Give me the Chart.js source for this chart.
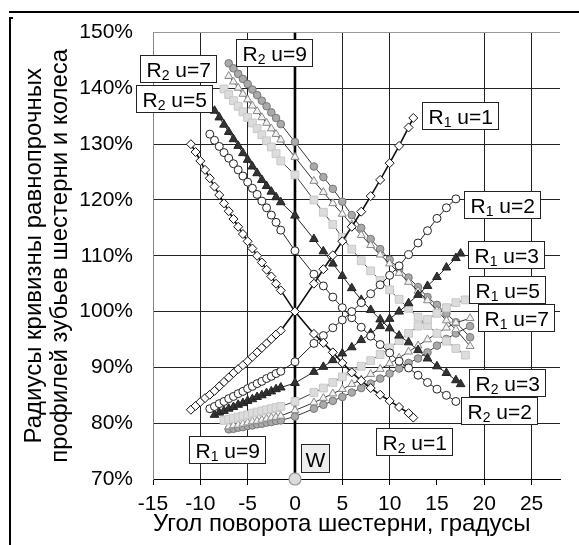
<!DOCTYPE html>
<html lang="ru">
<head>
    <meta charset="UTF-8">
    <title>Радиусы кривизны равнопрочных профилей</title>
    <style>
        body { margin: 0; background: #fff; font-family: "Liberation Sans", Arial, sans-serif; }
        #wrap { position: relative; width: 579px; height: 545px; overflow: hidden; }
        #chart { position: absolute; left: 0; top: 0; }
        .frame-top { position: absolute; left: 9px; top: 11px; width: 570px; border-top: 2px solid #000; }
        .frame-left { position: absolute; left: 9px; top: 17px; height: 528px; border-left: 2px solid #000; }
        .frame-stub { position: absolute; left: 9px; top: 17px; width: 4px; border-top: 2px solid #000; }
    </style>
</head>
<body>
<div id="wrap">
    <canvas id="chart" width="579" height="545"></canvas>
    <div class="frame-top"></div>
    <div class="frame-left"></div>
    <div class="frame-stub"></div>
</div>

<script src="https://cdn.jsdelivr.net/npm/chart.js@4/dist/chart.umd.min.js"></script>
<script>
  // pinion rotation angle, degrees (dense steps before 0, coarser after)
  const angles = [-11, -10.5, -10, -9.5, -9, -8.5, -8, -7.5, -7, -6.5, -6, -5.5, -5, -4.5, -4, -3.5, -3, -2.5, -2, -1.5,
                  0, 2, 3, 4, 5, 6, 7, 8, 9, 10, 11, 12, 12.5, 13, 14, 15, 16, 17, 17.5, 18, 18.5];

  // radii of curvature, % (null = no point at that angle)
  const r1u1 = [82.4, 83.1, 83.8, 84.5, 85.1, 85.8, 86.6, 87.4, 88.2, 89.0, 89.7, 90.4, 91.1, 91.9, 92.7, 93.5, 94.3, 95.1, 95.9, 96.6,
                100, 105.0, 107.6, 110.1, 112.6, 115.2, 117.9, 120.7, 123.6, 126.6, 129.7, 133.0, 134.7, null, null, null, null, null, null, null, null];
  const r2u1 = [130.0, 128.6, 127.0, 125.4, 123.9, 122.4, 120.9, 119.4, 118.0, 116.6, 115.2, 113.9, 112.6, 111.3, 110.0, 108.8, 107.5, 106.3, 105.0, 103.8,
                100, 96.0, 94.4, 92.7, 90.8, 89.1, 87.6, 86.3, 85.1, 84.0, 82.9, 81.8, 81.0, null, null, null, null, null, null, null, null];
  const r1u2 = [null, null, null, null, 82.6, 83.0, 83.5, 83.9, 84.4, 84.8, 85.3, 85.7, 86.2, 86.6, 87.1, 87.5, 88.0, 88.4, 88.9, 89.3,
                91.0, 94.3, 95.7, 97.1, 98.5, 100.0, 101.6, 103.2, 104.8, 106.5, 108.2, 110.2, null, 112.3, 114.5, 116.7, 118.6, 120.2, null, null, null];
  const r2u2 = [null, null, null, null, 131.8, 130.7, 129.6, 128.5, 127.5, 126.5, 125.4, 124.3, 123.2, 122.1, 121.0, 119.8, 118.6, 117.3, 116.0, 114.6,
                110.9, 106.7, 104.6, 102.6, 100.7, 98.9, 97.2, 95.6, 94.1, 92.6, 91.1, 89.9, null, 88.6, 87.3, 86.1, 85.0, 83.9, null, null, null];
  const r1u3 = [null, null, null, null, null, 81.5, 81.9, 82.2, 82.6, 82.9, 83.3, 83.6, 84.0, 84.3, 84.7, 85.0, 85.4, 85.7, 86.1, 86.4,
                87.2, 89.2, 90.1, 91.3, 92.5, 93.6, 94.9, 96.1, 97.4, 98.7, 100.0, 101.5, null, 103.0, 104.6, 106.2, 107.9, 109.6, 110.4, null, null];
  const r2u3 = [null, null, null, null, null, 136.0, 134.8, 133.5, 132.2, 130.9, 129.7, 128.4, 127.2, 126.0, 124.8, 123.6, 122.5, 121.5, 120.5, 119.6,
                117.2, 113.0, 110.8, 108.6, 106.4, 104.2, 102.1, 100.3, 98.6, 97.0, 95.7, 94.5, null, 93.1, 91.6, 90.2, 89.0, 87.7, 87.0, null, null];
  const r1u5 = [null, null, null, null, null, null, null, 80.5, 80.7, 80.9, 81.1, 81.3, 81.5, 81.8, 82.0, 82.2, 82.4, 82.6, 82.8, 83.0,
                83.9, 85.5, 86.3, 87.3, 88.3, 89.2, 90.2, 91.2, 92.3, 93.5, 94.8, 96.1, null, 97.4, 98.6, 99.7, 100.7, 101.6, null, 102.1, null];
  const r2u5 = [null, null, null, null, null, null, null, 139.9, 138.9, 137.8, 136.8, 135.8, 134.8, 133.8, 132.8, 131.7, 130.6, 129.5, 128.3, 127.0,
                124.5, 120.0, 117.8, 115.6, 113.3, 111.2, 109.1, 107.3, 105.6, 103.9, 102.2, 100.6, null, 99.0, 97.5, 96.1, 94.7, 93.4, null, 92.2, null];
  const r1u7 = [null, null, null, null, null, null, null, null, 79.4, 79.6, 79.7, 79.9, 80.1, 80.3, 80.4, 80.6, 80.8, 81.0, 81.1, 81.3,
                82.3, 83.7, 84.5, 85.3, 86.1, 87.0, 87.8, 88.8, 89.7, 90.7, 91.7, 92.8, null, 93.9, 95.0, 96.1, 97.1, 98.0, null, null, 98.8];
  const r2u7 = [null, null, null, null, null, null, null, null, 142.2, 141.2, 140.1, 139.0, 138.0, 136.9, 135.9, 134.8, 133.8, 132.8, 131.8, 130.8,
                127.7, 123.4, 121.4, 119.4, 117.5, 115.6, 113.7, 111.9, 110.2, 108.6, 106.9, 105.3, null, 103.7, 102.0, 100.2, 98.4, 96.8, null, null, 93.8];
  const r1u9 = [null, null, null, null, null, null, null, null, 78.9, 79.0, 79.2, 79.3, 79.5, 79.6, 79.8, 79.9, 80.1, 80.2, 80.4, 80.5,
                81.2, 82.6, 83.3, 84.0, 84.7, 85.5, 86.3, 87.1, 88.0, 88.9, 89.8, 90.8, null, 91.6, 92.7, 93.9, 95.1, 96.1, null, null, 97.4];
  const r2u9 = [null, null, null, null, null, null, null, null, 144.5, 143.6, 142.6, 141.7, 140.8, 139.8, 138.8, 137.8, 136.8, 135.7, 134.7, 133.6,
                130.4, 126.0, 124.1, 122.0, 119.7, 117.3, 115.0, 113.0, 111.2, 109.3, 107.7, 106.1, null, 104.4, 102.6, 101.2, 99.6, 98.1, null, null, 95.4];

  // point W and its vertical bar
  const wAngle = [0];
  const wValue = [70];
  const wBarTop = [150];

  const xTicks = [-15, -10, -5, 0, 5, 10, 15, 20, 25];
  const yTicks = [70, 80, 90, 100, 110, 120, 130, 140, 150];

  const FONT = '"Liberation Sans", Arial, sans-serif';

  // marker look per gear ratio
  const looks = {
    1: { pointStyle: 'rectRot', pointRadius: 4.5, pointBackgroundColor: '#fff', pointBorderColor: '#111', borderColor: '#111', borderWidth: 1.6 },
    2: { pointStyle: 'circle', pointRadius: 4, pointBackgroundColor: '#fff', pointBorderColor: '#222', borderColor: '#222', borderWidth: 1 },
    3: { pointStyle: 'triangle', pointRadius: 5, pointBackgroundColor: '#333', pointBorderColor: '#222', borderColor: '#222', borderWidth: 1 },
    5: { pointStyle: 'rect', pointRadius: 5.5, pointBackgroundColor: '#dcdcdc', pointBorderColor: '#c8c8c8', borderColor: '#444', borderWidth: 1 },
    7: { pointStyle: 'triangle', pointRadius: 4.6, pointBackgroundColor: '#f2f2f2', pointBorderColor: '#888', borderColor: '#333', borderWidth: 1 },
    9: { pointStyle: 'circle', pointRadius: 3.8, pointBackgroundColor: '#aaa', pointBorderColor: '#777', borderColor: '#333', borderWidth: 1 }
  };

  const series = [
    ['R1 u=1', r1u1, 1], ['R2 u=1', r2u1, 1],
    ['R1 u=2', r1u2, 2], ['R2 u=2', r2u2, 2],
    ['R1 u=3', r1u3, 3], ['R2 u=3', r2u3, 3],
    ['R1 u=5', r1u5, 5], ['R2 u=5', r2u5, 5],
    ['R1 u=7', r1u7, 7], ['R2 u=7', r2u7, 7],
    ['R1 u=9', r1u9, 9], ['R2 u=9', r2u9, 9]
  ];

  function toPoints(vals) {
    return angles.map((a, i) => vals[i] == null ? null : { x: a, y: vals[i] }).filter(p => p);
  }

  const datasets = [{
    label: 'W',
    data: wAngle.map((a, i) => ({ x: a, y: wValue[i] })),
    showLine: false,
    pointStyle: 'circle',
    pointRadius: 6,
    pointBackgroundColor: '#ddd',
    pointBorderColor: '#999',
    pointBorderWidth: 1.2,
    clip: false
  }];

  series.forEach(([name, vals, u]) => {
    datasets.push(Object.assign({
      label: name,
      data: toPoints(vals),
      showLine: true,
      pointBorderWidth: 1,
      tension: 0
    }, looks[u]));
  });

  // the bar of W sits under everything
  datasets.push({
    label: 'W bar',
    data: [{ x: wAngle[0], y: wValue[0] }, { x: wAngle[0], y: wBarTop[0] }],
    showLine: true,
    borderColor: '#000',
    borderWidth: 2.6,
    pointRadius: 0
  });

  // text boxes, top-left corner given in axis units
  const boxLabels = [
    { sub: '2', rest: ' u=9', x: -6.18, y: 148.8 },
    { sub: '2', rest: ' u=7', x: -16.41, y: 146.0 },
    { sub: '2', rest: ' u=5', x: -16.76, y: 140.6 },
    { sub: '1', rest: ' u=1', x: 13.47, y: 137.6 },
    { sub: '1', rest: ' u=2', x: 17.87, y: 121.55 },
    { sub: '1', rest: ' u=3', x: 18.32, y: 112.6 },
    { sub: '1', rest: ' u=5', x: 18.4, y: 106.4 },
    { sub: '1', rest: ' u=7', x: 19.38, y: 101.3 },
    { sub: '2', rest: ' u=3', x: 18.4, y: 89.75 },
    { sub: '2', rest: ' u=2', x: 17.52, y: 84.7 },
    { sub: '2', rest: ' u=1', x: 8.55, y: 79.1 },
    { sub: '1', rest: ' u=9', x: -11.21, y: 77.7 },
    { text: 'W', x: 0.64, y: 76.35, fill: '#eeeeee' }
  ];

  const boxPlugin = {
    id: 'boxLabels',
    afterDatasetsDraw(chart) {
      const { ctx, scales } = chart;
      const big = '21px ' + FONT;
      const small = '14px ' + FONT;
      ctx.save();
      ctx.textBaseline = 'alphabetic';
      boxLabels.forEach(l => {
        const left = Math.round(scales.x.getPixelForValue(l.x)) + 0.5;
        const top = Math.round(scales.y.getPixelForValue(l.y)) + 0.5;
        let w;
        if (l.text) {
          ctx.font = big;
          w = Math.round(ctx.measureText(l.text).width) + 8;
        } else {
          ctx.font = big;
          const wR = ctx.measureText('R').width;
          const wRest = ctx.measureText(l.rest).width;
          ctx.font = small;
          const wSub = ctx.measureText(l.sub).width;
          w = Math.round(wR + wSub + wRest) + 12;
        }
        const h = l.text ? 28 : 27;
        ctx.fillStyle = l.fill || '#fff';
        ctx.fillRect(left, top, w, h);
        ctx.strokeStyle = '#222';
        ctx.lineWidth = 1;
        ctx.strokeRect(left, top, w, h);
        ctx.fillStyle = '#000';
        if (l.text) {
          ctx.font = big;
          ctx.fillText(l.text, left + 4, top + 22);
        } else {
          let cx = left + 6;
          ctx.font = big;
          ctx.fillText('R', cx, top + 21);
          cx += ctx.measureText('R').width;
          ctx.font = small;
          ctx.fillText(l.sub, cx, top + 24);
          cx += ctx.measureText(l.sub).width;
          ctx.font = big;
          ctx.fillText(l.rest, cx, top + 21);
        }
      });
      ctx.restore();
    }
  };

  new Chart(document.getElementById('chart'), {
    type: 'scatter',
    data: { datasets: datasets },
    options: {
      responsive: false,
      animation: false,
      events: [],
      layout: { padding: { top: 30, right: 19, left: 0, bottom: 0 } },
      plugins: { legend: { display: false }, tooltip: { enabled: false } },
      scales: {
        x: {
          type: 'linear',
          min: -15,
          max: 28,
          afterBuildTicks: s => { s.ticks = xTicks.concat([28]).map(v => ({ value: v })); },
          afterFit: s => { s.height = 66; },
          ticks: {
            callback: v => xTicks.includes(v) ? String(v) : '',
            color: '#000',
            font: { family: FONT, size: 21 },
            padding: 7,
            maxRotation: 0,
            autoSkip: false
          },
          grid: {
            color: c => (c.tick.value === 15 || c.tick.value === 28) ? 'rgba(0,0,0,0)' : (c.tick.value === -15 ? '#888' : '#222'),
            tickColor: c => c.tick.value === 28 ? 'rgba(0,0,0,0)' : '#000',
            tickLength: 6,
            lineWidth: 1
          },
          border: { color: '#000', width: 1 },
          title: {
            display: true,
            text: 'Угол поворота шестерни, градусы',
            align: 'start',
            color: '#000',
            font: { family: FONT, size: 24, lineHeight: 1.2 },
            padding: { top: 0, bottom: 6 }
          }
        },
        y: {
          min: 70,
          max: 150,
          afterBuildTicks: s => { s.ticks = yTicks.map(v => ({ value: v })); },
          afterFit: s => { s.width = 153; },
          ticks: {
            callback: v => v + '%',
            color: '#000',
            font: { family: FONT, size: 21 },
            padding: 20
          },
          grid: {
            color: c => c.tick.value === 150 ? '#999' : '#222',
            drawTicks: false,
            lineWidth: 1
          },
          border: { color: '#888', width: 1 },
          title: {
            display: true,
            text: ['Радиусы кривизны равнопрочных', 'профилей зубьев шестерни и колеса'],
            color: '#000',
            font: { family: FONT, size: 24, lineHeight: 1.08 },
            padding: { top: 21 }
          }
        }
      }
    },
    plugins: [boxPlugin]
  });
</script>
</body>
</html>
